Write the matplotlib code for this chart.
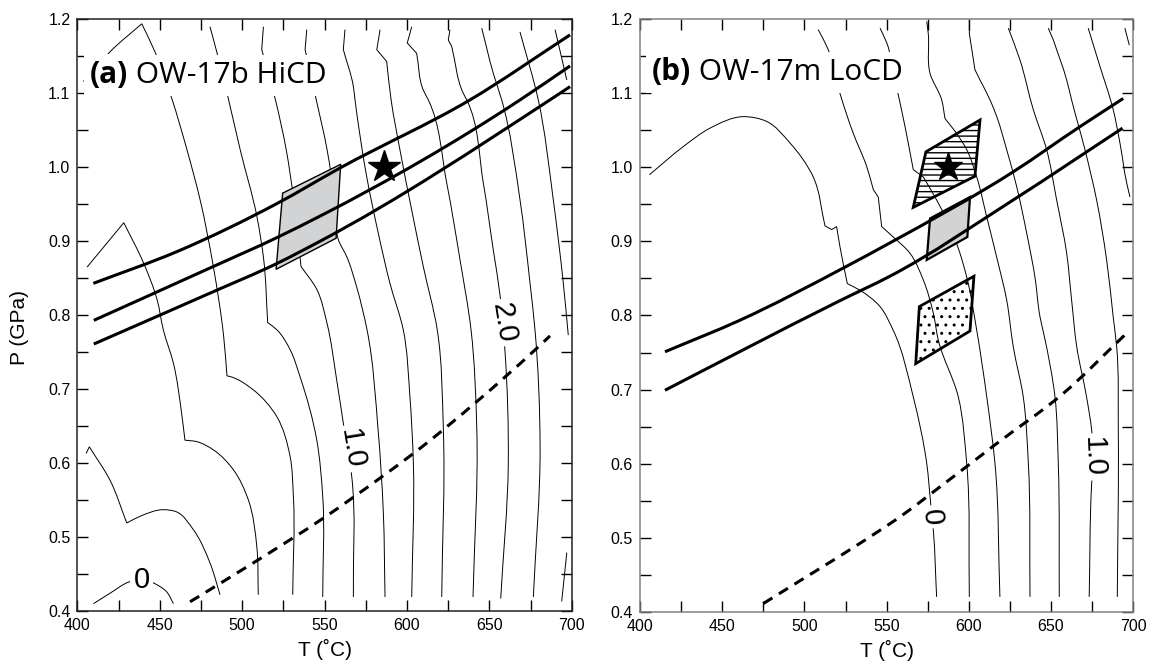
import matplotlib
matplotlib.use("Agg")
import numpy as np
import matplotlib.pyplot as plt
from matplotlib.path import Path
from matplotlib.patches import PathPatch
from matplotlib.ticker import MultipleLocator, FormatStrFormatter

plt.rcParams["font.family"] = ["Liberation Sans", "DejaVu Sans"]

# ---------------- panel (a) OW-17b HiCD ----------------
# thin contour lines: (T in C, P in GPa, indices of sharp corners)
a_c1 = ([409.8, 419.8, 430.9, 439.0, 447.1, 454.2, 458.3],
        [0.410, 0.424, 0.439, 0.444, 0.437, 0.426, 0.410], [])
a_c2 = ([405.3, 407.3, 419.8, 430.0, 438.0, 452.2, 460.3, 470.4, 480.5, 486.6],
        [0.613, 0.622, 0.577, 0.519, 0.528, 0.537, 0.534, 0.510, 0.465, 0.422], [1, 3])
a_c3 = ([405.9, 428.2, 440.3, 448.4, 452.2, 458.3, 463.3, 465.3, 472.5, 482.5, 494.7, 503.8, 508.9, 509.8],
        [0.865, 0.925, 0.870, 0.821, 0.780, 0.735, 0.667, 0.631, 0.629, 0.618, 0.591, 0.550, 0.487, 0.422], [1, 7])
a_c4 = ([403.6, 406.7, 419.8, 439.1, 447.1, 457.3, 466.6, 474.5, 482.5, 488.8, 490.8, 492.7, 506.8, 521.0, 529.1, 531.1, 530.7],
        [1.116, 1.122, 1.156, 1.194, 1.156, 1.093, 1.023, 0.956, 0.866, 0.771, 0.718, 0.717, 0.699, 0.663, 0.609, 0.555, 0.422], [3, 10])
a_c5 = ([480.5, 484.6, 491.6, 498.9, 509.0, 513.1, 515.5, 521.2, 529.2, 535.1, 545.3, 548.9, 548.9],
        [1.190, 1.156, 1.093, 1.023, 0.933, 0.875, 0.790, 0.780, 0.753, 0.717, 0.631, 0.555, 0.419], [6])
a_c6 = ([512.9, 511.9, 520.0, 526.8, 531.3, 534.3, 535.7, 545.5, 551.5, 557.4, 561.4, 566.5, 567.5],
        [1.190, 1.159, 1.093, 1.023, 0.956, 0.897, 0.866, 0.834, 0.789, 0.712, 0.654, 0.582, 0.419], [1, 6])
a_c7 = ([539.2, 538.2, 544.8, 551.6, 554.0, 556.4, 558.4, 563.5, 569.5, 575.8, 582.5, 585.7, 586.7],
        [1.186, 1.159, 1.093, 1.023, 0.990, 0.942, 0.902, 0.879, 0.838, 0.780, 0.645, 0.532, 0.419], [1])
a_c8 = ([562.4, 561.4, 567.5, 568.5, 575.6, 582.6, 589.7, 597.8, 601.8, 603.9, 602.9],
        [1.186, 1.159, 1.109, 1.091, 0.987, 0.911, 0.843, 0.780, 0.690, 0.600, 0.419], [1])
a_c9 = ([583.7, 581.7, 587.7, 590.4, 595.8, 602.9, 609.9, 618.4, 622.1, 621.1],
        [1.186, 1.159, 1.143, 1.091, 1.023, 0.942, 0.866, 0.780, 0.645, 0.419], [1, 2])
a_c10 = ([602.9, 600.2, 605.9, 610.0, 613.0, 624.2, 632.2, 638.9, 642.4, 640.1],
         [1.190, 1.168, 1.154, 1.104, 1.091, 0.978, 0.875, 0.780, 0.645, 0.419], [1, 2])
a_c11 = ([626.1, 625.1, 627.2, 634.2, 636.3, 646.4, 652.4, 656.5, 659.5, 661.5, 656.9],
         [1.186, 1.172, 1.163, 1.100, 1.091, 0.978, 0.888, 0.827, 0.751, 0.600, 0.417], [1, 2])
a_c12 = ([645.4, 652.4, 657.5, 668.6, 674.7, 677.7, 680.8, 676.7],
         [1.188, 1.127, 1.091, 0.956, 0.843, 0.780, 0.622, 0.419], [])
a_c13 = ([668.6, 679.7, 688.8, 694.9, 697.9], [1.183, 1.091, 0.956, 0.843, 0.773], [])
a_c14 = ([689.9, 697.0], [1.186, 1.118], [])
a_c15 = ([697.0, 693.9], [0.479, 0.413], [])
a_contours = [a_c1, a_c2, a_c3, a_c4, a_c5, a_c6, a_c7, a_c8, a_c9, a_c10,
              a_c11, a_c12, a_c13, a_c14, a_c15]
a_labels = [("0", 439.0, 0.442, 0), ("1.0", 566.5, 0.620, -81), ("2.0", 658.5, 0.790, -81)]

# thick isopleths
a_thick_top = ([409.7, 460.5, 521.2, 559.4, 638.2, 699.0], [0.843, 0.886, 0.951, 0.999, 1.091, 1.179], [])
a_thick_mid = ([410.0, 480.7, 521.2, 547.3, 668.6, 699.0], [0.793, 0.864, 0.905, 0.934, 1.091, 1.137], [])
a_thick_bot = ([410.0, 480.7, 521.2, 547.3, 686.7, 699.0], [0.761, 0.830, 0.870, 0.900, 1.091, 1.109], [])
a_dashed = ([468.4, 508.9, 548.9, 585.7, 603.9, 642.3, 677.7, 686.8],
            [0.4125, 0.468, 0.525, 0.583, 0.613, 0.683, 0.753, 0.772], [])
a_grey_box = ([524.6, 559.8, 557.0, 520.6], [0.965, 1.004, 0.904, 0.862])
a_star = (586.0, 1.0)

# ---------------- panel (b) OW-17m LoCD ----------------
b_c1 = ([405.7, 426.3, 442.6, 462.8, 477.1, 491.2, 505.4, 512.5, 516.6, 519.6, 521.6, 526.1, 533.8, 546.0,
         554.0, 566.2, 574.4, 576.8, 578.4, 580.4],
        [0.990, 1.028, 1.053, 1.0685, 1.062, 1.033, 0.987, 0.921, 0.916, 0.920, 0.893, 0.843, 0.834, 0.812,
         0.780, 0.690, 0.600, 0.546, 0.510, 0.420], [7, 8, 9, 11])
b_c2 = ([508.4, 514.5, 521.6, 529.7, 537.9, 541.9, 544.9, 547.0, 554.0, 564.2, 572.3, 578.4, 581.4, 593.6, 598.7, 600.3],
        [1.186, 1.159, 1.100, 1.046, 1.001, 0.970, 0.960, 0.920, 0.906, 0.884, 0.848, 0.803, 0.767, 0.690, 0.600, 0.420],
        [5, 6, 7])
b_c3 = ([546.0, 550.1, 555.1, 561.2, 566.2, 572.3, 580.4, 588.5, 594.6, 598.7, 604.8, 610.9, 615.9, 618.9],
        [1.188, 1.168, 1.118, 1.055, 0.997, 0.987, 0.956, 0.920, 0.884, 0.852, 0.780, 0.690, 0.600, 0.420], [4, 5])
b_c4 = ([574.4, 575.3, 576.4, 583.5, 585.5, 592.6, 598.7, 604.8, 610.9, 616.9, 623.0, 627.0, 633.1, 636.2, 637.2],
        [1.197, 1.181, 1.127, 1.091, 1.066, 1.046, 1.024, 0.987, 0.933, 0.879, 0.821, 0.758, 0.690, 0.600, 0.420], [4, 5])
b_c5 = ([600.3, 600.3, 603.7, 606.8, 612.9, 616.9, 623.0, 629.1, 635.2, 640.2, 643.3, 645.7, 652.4, 654.4, 655.0],
        [1.199, 1.181, 1.132, 1.118, 1.091, 1.069, 1.024, 0.974, 0.911, 0.852, 0.798, 0.774, 0.690, 0.600, 0.420], [1, 2, 3])
b_c6 = ([624.0, 631.1, 639.2, 647.3, 653.4, 659.5, 662.5, 665.6, 671.6, 674.7, 675.7, 674.7, 673.2],
        [1.188, 1.145, 1.078, 1.024, 0.956, 0.884, 0.821, 0.758, 0.690, 0.645, 0.609, 0.573, 0.420], [])
b_c7 = ([648.3, 651.4, 659.5, 662.5, 670.6, 677.7, 683.8, 687.8, 689.9, 690.9, 690.3],
        [1.188, 1.172, 1.118, 1.091, 1.024, 0.956, 0.875, 0.798, 0.758, 0.645, 0.420], [1])
b_c8 = ([672.6, 679.8, 687.8, 691.9, 696.0, 698.0], [1.188, 1.136, 1.078, 1.033, 0.979, 0.960], [])
b_c9 = ([694.9, 697.6], [1.188, 1.165], [])
b_contours = [b_c1, b_c2, b_c3, b_c4, b_c5, b_c6, b_c7, b_c8, b_c9]
b_labels = [("0", 577.5, 0.528, -85), ("1.0", 675.7, 0.609, -88)]

b_thick_top = ([415.2, 460.2, 523.6, 552.0, 627.0, 667.6, 693.9], [0.751, 0.793, 0.864, 0.898, 0.994, 1.055, 1.093], [])
b_thick_bot = ([415.2, 464.9, 521.6, 552.0, 627.0, 693.5], [0.699, 0.756, 0.820, 0.853, 0.956, 1.053], [])
b_dashed = ([475.0, 546.0, 558.1, 577.4, 616.9, 656.5, 695.0],
            [0.411, 0.510, 0.528, 0.560, 0.627, 0.693, 0.774], [])
b_hatch_box = ([573.9, 606.8, 603.7, 566.2], [1.021, 1.064, 0.988, 0.946])
b_grey_box = ([576.4, 600.7, 599.1, 574.4], [0.931, 0.960, 0.906, 0.875])
b_dot_box = ([569.9, 603.1, 600.7, 567.7], [0.812, 0.853, 0.779, 0.735])
b_star = (587.5, 1.0)


def smooth_path(ax, T, P, corners):
    # cubic Bezier through the read points, chord-length spline, sharp at the corners
    pts = np.column_stack([T, P]).astype(float)
    disp = ax.transData.transform(pts)
    cuts = [0] + list(corners) + [len(pts) - 1]
    verts, codes = [tuple(pts[0])], [Path.MOVETO]
    for a, b in zip(cuts[:-1], cuts[1:]):
        q = pts[a:b + 1]
        d = disp[a:b + 1]
        m = len(q) - 1
        h = np.maximum(np.hypot(*np.diff(d, axis=0).T), 1e-6)
        slope = np.diff(q, axis=0) / h[:, None]
        tang = np.zeros_like(q)
        tang[0] = slope[0]
        tang[-1] = slope[-1]
        for i in range(1, m):
            tang[i] = (h[i] * slope[i - 1] + h[i - 1] * slope[i]) / (h[i - 1] + h[i])
        for i in range(m):
            c1 = q[i] + tang[i] * h[i] / 3
            c2 = q[i + 1] - tang[i + 1] * h[i] / 3
            verts += [tuple(c1), tuple(c2), tuple(q[i + 1])]
            codes += [Path.CURVE4] * 3
    return Path(verts, codes)


def add_curve(ax, line, **kw):
    ax.add_patch(PathPatch(smooth_path(ax, *line), fill=False, **kw))


fig = plt.figure(figsize=(11.49, 6.62), dpi=100)
ax_a = fig.add_axes([0.0673, 0.0770, 0.4303, 0.8938])
ax_b = fig.add_axes([0.5570, 0.0760, 0.4293, 0.8949])


def setup_axes(ax, spine_color):
    ax.set_xlim(400, 700)
    ax.set_ylim(0.4, 1.2)
    ax.xaxis.set_major_locator(MultipleLocator(50))
    ax.xaxis.set_minor_locator(MultipleLocator(25))
    ax.yaxis.set_major_locator(MultipleLocator(0.1))
    ax.yaxis.set_minor_locator(MultipleLocator(0.05))
    ax.yaxis.set_major_formatter(FormatStrFormatter("%.1f"))
    ax.tick_params(which="both", direction="in", top=True, right=True,
                   length=8, width=1, labelsize=11.5, pad=5)
    for s in ax.spines.values():
        s.set_color(spine_color)
        s.set_linewidth(1.1)
    ax.set_xlabel("T (\u02daC)", fontsize=15)
    ax.xaxis.set_label_coords(0.5, -0.048)


def draw_lines(ax, contours, labels, thick, dashed):
    for line in contours:
        add_curve(ax, line, edgecolor="black", lw=0.7, zorder=1)
    for line in thick:
        add_curve(ax, line, edgecolor="black", lw=2.2, zorder=3)
    add_curve(ax, dashed, edgecolor="black", lw=2.2, ls=(0, (3.5, 2.5)), zorder=3)
    for s, t, p, rot in labels:
        ax.text(t, p, s, rotation=rot, ha="center", va="center", fontsize=21,
                rotation_mode="anchor",
                bbox=dict(boxstyle="square,pad=0.12", fc="white", ec="none"), zorder=5)


def title(ax, bold, rest, t, p):
    box = dict(boxstyle="square,pad=0.2", fc="white", ec="none")
    t1 = ax.text(t, p, bold, fontsize=21.5, fontweight="bold", family="Open Sans",
                 ha="left", va="baseline", bbox=box, zorder=7)
    ax.annotate(rest, xy=(1, 0), xycoords=t1, ha="left", va="bottom", fontsize=21.5,
                family="Open Sans", bbox=box, zorder=6)


# panel a
setup_axes(ax_a, "#222222")
draw_lines(ax_a, a_contours, a_labels, [a_thick_top, a_thick_mid, a_thick_bot], a_dashed)
ax_a.fill(a_grey_box[0], a_grey_box[1], facecolor="#d1d3d4", edgecolor="black", lw=1.0, zorder=2)
ax_a.plot(*a_star, marker="*", ms=24, color="black", zorder=4)
title(ax_a, "(a)", " OW-17b HiCD", 407.7, 1.114)
ax_a.set_ylabel("P (GPa)", fontsize=15)
ax_a.yaxis.set_label_coords(-0.098, 0.48)

# panel b
setup_axes(ax_b, "#808080")
draw_lines(ax_b, b_contours, b_labels, [b_thick_top, b_thick_bot], b_dashed)
ax_b.fill(b_grey_box[0], b_grey_box[1], facecolor="#d1d3d4", edgecolor="black", lw=1.6, zorder=2)
ax_b.fill(b_hatch_box[0], b_hatch_box[1], facecolor="none", edgecolor="black", lw=2.0,
          hatch="---", zorder=2)
ax_b.fill(b_dot_box[0], b_dot_box[1], facecolor="none", edgecolor="black", lw=2.0,
          hatch="..", zorder=2)
ax_b.plot(*b_star, marker="*", ms=21, color="black", zorder=4)
title(ax_b, "(b)", " OW-17m LoCD", 407.3, 1.118)

fig.savefig("out.png", dpi=100)
